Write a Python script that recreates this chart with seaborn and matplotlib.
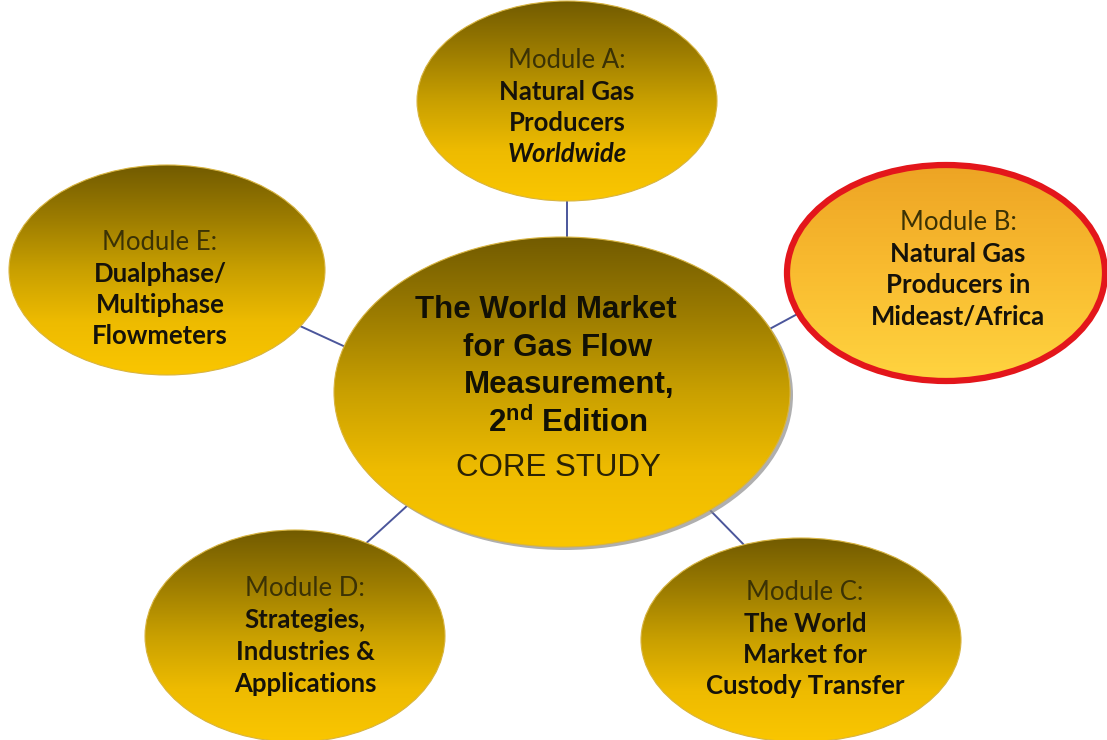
import numpy as np
import matplotlib
matplotlib.use("Agg")
import matplotlib.pyplot as plt
from matplotlib.patches import Ellipse
import seaborn as sns

# diagram content
module_keys = ["core", "A", "B", "C", "D", "E"]
module_heads = [None, "Module A:", "Module B:", "Module C:", "Module D:", "Module E:"]
module_bodies = [
    ["The World Market", "for Gas Flow", "Measurement,", "2$^{\\mathbf{nd}}$ Edition"],
    ["Natural Gas", "Producers", "Worldwide"],
    ["Natural Gas", "Producers in", "Mideast/Africa"],
    ["The World", "Market for", "Custody Transfer"],
    ["Strategies,", "Industries &", "Applications"],
    ["Dualphase/", "Multiphase", "Flowmeters"],
]
core_footer = "CORE STUDY"
highlighted = "B"

# layout in pixel units (y down)
centers = [(562, 392), (567, 101), (946, 273), (801, 640), (295, 636), (167, 270)]
sizes = [(456, 310), (300, 200), (318, 216), (320, 204), (300, 212), (316, 210)]
text_x = [558, 567, 958, 805, 305, 160]
text_top = [310, 60, 222, 592, 589, 242]
core_line_x = [546, 558, 569, 568]
connectors = [((567, 195), (567, 245)), ((300, 326), (350, 349)),
              ((764, 332), (803, 311)), ((408, 505), (362, 547)),
              ((705, 505), (750, 551))]

sns.set_theme(style="white")
plt.rcParams["font.family"] = ["Lato", "DejaVu Sans"]
plt.rcParams["mathtext.fontset"] = "custom"
plt.rcParams["mathtext.rm"] = "Liberation Sans"
plt.rcParams["mathtext.bf"] = "Liberation Sans:bold"

gold = sns.blend_palette(["#725b00", "#9c7c00", "#c9a000", "#eebb00", "#fac600"], as_cmap=True)
orange = sns.blend_palette(["#eda424", "#f9bc30", "#ffd440"], as_cmap=True)

fig = plt.figure(figsize=(11.07, 7.4), dpi=100)
ax = fig.add_axes([0, 0, 1, 1])
ax.set_xlim(0, 1107)
ax.set_ylim(740, 0)
ax.axis("off")

# connectors between the core study and the modules
for (x0, y0), (x1, y1) in connectors:
    ax.plot([x0, x1], [y0, y1], color="#4b569b", lw=1.4, zorder=1)

grad = np.linspace(0, 1, 256).reshape(-1, 1)

for i, key in enumerate(module_keys):
    (x, y), (w, h) = centers[i], sizes[i]
    if key == "core":
        shadow = Ellipse((x + 3, y + 3), w, h, facecolor="#8d8d8d", alpha=0.7,
                         edgecolor="none", zorder=2)
        ax.add_patch(shadow)
    edge = "#e3161b" if key == highlighted else "#d8b440"
    lw = 4.5 if key == highlighted else 0.8
    ell = Ellipse((x, y), w, h, facecolor="none", edgecolor="none", zorder=3)
    ax.add_patch(ell)
    cmap = orange if key == highlighted else gold
    im = ax.imshow(grad, cmap=cmap, aspect="auto", origin="upper",
                   extent=(x - w / 2, x + w / 2, y + h / 2, y - h / 2), zorder=3)
    im.set_clip_path(ell)
    ax.add_patch(Ellipse((x, y), w, h, facecolor="none", edgecolor=edge, lw=lw, zorder=4))

    tx, ty = text_x[i], text_top[i]
    if key == "core":
        for j, line in enumerate(module_bodies[i]):
            ax.text(core_line_x[j], ty + j * 37.5, line, ha="center", va="center",
                    family=["Liberation Sans", "DejaVu Sans"], weight="bold",
                    fontsize=22.5, color="#111005", zorder=5)
        ax.text(tx, ty + 158, core_footer, ha="center", va="center",
                family=["Liberation Sans", "DejaVu Sans"], fontsize=22.5,
                color="#2a2205", zorder=5)
    else:
        ax.text(tx, ty, module_heads[i], ha="center", va="center",
                fontsize=18.5, color="#3b3205", zorder=5)
        for j, line in enumerate(module_bodies[i]):
            style = "italic" if line == "Worldwide" else "normal"
            ax.text(tx, ty + (j + 1) * 31.5, line, ha="center", va="center",
                    fontsize=18.5, weight="bold", style=style, color="#15120a", zorder=5)

fig.savefig("out.png", dpi=100)
